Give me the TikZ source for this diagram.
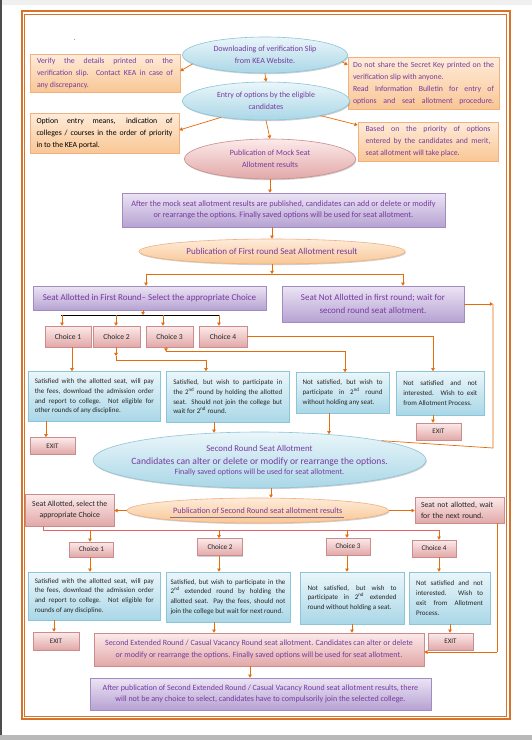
\documentclass[tikz,border=0pt]{standalone}
\usepackage{fontspec}
\setmainfont{Carlito}
\usetikzlibrary{shapes.geometric,arrows.meta,shadows}
\definecolor{purp}{RGB}{118,58,160}
\definecolor{orng}{RGB}{228,108,10}
\definecolor{framec}{RGB}{214,115,40}
\definecolor{blueT}{RGB}{234,246,250}
\definecolor{blueB}{RGB}{170,215,231}
\definecolor{blueD}{RGB}{140,196,216}
\definecolor{peachT}{RGB}{254,236,218}
\definecolor{peachB}{RGB}{249,198,148}
\definecolor{peachD}{RGB}{242,175,128}
\definecolor{pinkT}{RGB}{252,234,234}
\definecolor{pinkB}{RGB}{226,168,168}
\definecolor{pinkD}{RGB}{205,140,140}
\definecolor{lilT}{RGB}{236,228,245}
\definecolor{lilB}{RGB}{182,162,210}
\definecolor{lilD}{RGB}{160,140,190}
\definecolor{redl}{RGB}{232,96,100}
\begin{document}
\begin{tikzpicture}[x=1pt,y=-1pt,
 every node/.style={inner sep=0pt, line width=0.6pt},
 shd/.style={drop shadow={shadow xshift=0.8pt,shadow yshift=-1.2pt,opacity=0.3,fill=black!60}},
 arr/.style={draw=orng, line width=0.7pt, -{Triangle[length=3.2pt,width=3.6pt]}},
 ln/.style={draw=orng, line width=0.7pt},
 etext/.style={text=purp, align=center},
 bluell/.style={ellipse, draw=blueD, top color=blueT, bottom color=blueB, shd},
 oranell/.style={ellipse, draw=peachD, top color=peachT, bottom color=peachB, shd},
 pinkell/.style={ellipse, draw=pinkD, top color=pinkT, bottom color=pinkB, shd},
 peachbox/.style={rectangle, draw=peachD, top color=peachT, bottom color=peachB, text=purp, align=justify, font=\fontsize{7.8}{12}\selectfont, shd},
 lilbox/.style={rectangle, draw=lilD, top color=lilT, bottom color=lilB, text=purp, align=center, shd},
 pinkbox/.style={rectangle, draw=pinkD, top color=pinkT, bottom color=pinkB, text=black!85, align=center, shd},
 bluebox/.style={rectangle, draw=blueD, top color=blueT, bottom color=blueB, text=black!85, align=justify, font=\fontsize{7}{9.8}\selectfont, shd},
 choice/.style={pinkbox, font=\fontsize{7.6}{9}\selectfont},
 exitbox/.style={pinkbox, font=\fontsize{7}{8}\selectfont}
]
\useasboundingbox (0,0) rectangle (532,740);
\fill[white] (0,0) rectangle (532,740);
\fill[gray!12] (0,0) rectangle (532,5);
\fill[black!70] (0,0) rectangle (1.5,740);
\fill[gray!55] (0,735) rectangle (532,740);
\draw[framec, line width=2pt] (21.5,11) rectangle (509.5,719);
\draw[framec, line width=0.6pt] (24.5,14) rectangle (506.5,716);
\node[font=\fontsize{6}{6}\selectfont] (dot) at (75,40) {.};

% top part
\node[bluell, minimum width=165, minimum height=36] (E1) at (265,55) {};
\node[etext, font=\fontsize{8}{12}\selectfont] (E1t) at (E1.center) {Downloading of verification Slip\\from KEA Website.};
\node[peachbox, minimum width=150, minimum height=38, text width=136pt] (Vf) at (105,73) {Verify the details printed on the\linebreak verification slip. Contact KEA in case of\linebreak any discrepancy.};
\node[peachbox, minimum width=151, minimum height=52, text width=141pt] (Dn) at (423.5,83) {Do not share the Secret Key printed on the\linebreak verification slip with anyone.\\Read Information Bulletin for entry of\linebreak \makebox[\hsize][s]{options and seat allotment procedure.}};
\node[bluell, minimum width=167, minimum height=38] (E2) at (266,101) {};
\node[etext, font=\fontsize{7.9}{12}\selectfont] (E2t) at (E2.center) {Entry of options by the eligible\\candidates};
\node[peachbox, text=black, minimum width=149, minimum height=40, text width=136pt] (Op) at (104.5,133) {Option entry means, indication of\linebreak colleges / courses in the order of priority\linebreak in to the KEA portal.};
\node[peachbox, minimum width=140, minimum height=39, text width=125pt] (Bp) at (428,141.5) {Based on the priority of options\linebreak entered by the candidates and merit,\linebreak seat allotment will take place.};
\node[pinkell, minimum width=171, minimum height=40] (E3) at (270,159) {};
\node[etext, font=\fontsize{8}{12}\selectfont] (E3t) at (E3.center) {Publication of Mock Seat\\Allotment results};
\node[lilbox, minimum width=323, minimum height=34, font=\fontsize{8.2}{11.5}\selectfont] (Mk) at (283.5,210) {After the mock seat allotment results are published, candidates can add or delete or modify\\or rearrange the options. Finally saved options will be used for seat allotment.};
\node[oranell, minimum width=266, minimum height=25] (E9) at (272,251.5) {};
\node[etext, font=\fontsize{9}{10}\selectfont] (E9t) at (E9.center) {Publication of First round Seat Allotment result};
\node[lilbox, minimum width=233, minimum height=24, font=\fontsize{9}{10}\selectfont] (S1) at (149.5,298) {Seat Allotted in First Round– Select the appropriate Choice};
\node[lilbox, minimum width=182, minimum height=36, font=\fontsize{9}{12.5}\selectfont] (N1) at (373,304) {Seat Not Allotted in first round; wait for\\second round seat allotment.};

% first round choices
\node[choice, minimum width=46, minimum height=21] (Ca) at (68,336.5) {Choice 1};
\node[choice, minimum width=47, minimum height=21] (Cb) at (116.5,336.5) {Choice 2};
\node[choice, minimum width=47, minimum height=21] (Cc) at (169.5,336.5) {Choice 3};
\node[choice, minimum width=48, minimum height=21] (Cd) at (223,336.5) {Choice 4};

\node[bluebox, minimum width=132.5, minimum height=49.5, text width=119pt] (Ba) at (94.25,396.25) {Satisfied with the allotted seat, will pay\linebreak the fees, download the admission order\linebreak and report to college. Not eligible for\linebreak other rounds of any discipline.};
\node[bluebox, minimum width=123.5, minimum height=50.5, text width=109pt] (Bb) at (227.75,396.75) {Satisfied, but wish to participate in\linebreak the 2\textsuperscript{nd} round by holding the allotted\linebreak seat. Should not join the college but\linebreak wait for 2\textsuperscript{nd} round.};
\node[bluebox, minimum width=93, minimum height=40.5, text width=80pt] (Bc) at (342.5,392.75) {Not satisfied, but wish to\linebreak participate in 2\textsuperscript{nd} round\linebreak without holding any seat.};
\node[bluebox, minimum width=88.5, minimum height=43.5, text width=74pt] (Bd) at (440.25,393.25) {Not satisfied and not\linebreak interested. Wish to exit\linebreak from Allotment Process.};

\node[exitbox, minimum width=45, minimum height=16.5] (X1) at (52.5,445.75) {EXIT};
\node[exitbox, minimum width=45, minimum height=17] (X2) at (438.5,431.5) {EXIT};

\node[bluell, minimum width=333, minimum height=56] (E12) at (259.5,460) {};
\node[etext, font=\fontsize{9.6}{12}\selectfont] (E12t) at (259.5,461) {{\fontsize{8.8}{10}\selectfont Second Round Seat Allotment}\\[1pt]Candidates can alter or delete or modify or rearrange the options.\\[-2pt]{\fontsize{8}{10}\selectfont Finally saved options will be used for seat allotment.}};
\node[oranell, minimum width=261.5, minimum height=25] (E13) at (257.75,510.5) {};
\node[etext, font=\fontsize{8.2}{10}\selectfont] (E13t) at (E13.center) {Publication of Second Round seat allotment results};
\node[pinkbox, minimum width=88.5, minimum height=32, font=\fontsize{7.8}{11}\selectfont] (Sa) at (69.75,510) {Seat Allotted, select the\\appropriate Choice};
\node[pinkbox, align=left, text width=77pt, minimum width=89, minimum height=26, font=\fontsize{7.8}{11}\selectfont] (Sn) at (459.5,510) {Seat not allotted, wait\\for the next round.};

% second round choices
\node[choice, font=\fontsize{7.2}{8}\selectfont, minimum width=44, minimum height=15] (Da) at (91.5,549.5) {Choice 1};
\node[choice, font=\fontsize{7.2}{8}\selectfont, minimum width=45, minimum height=17] (Db) at (220,547) {Choice 2};
\node[choice, font=\fontsize{7.2}{8}\selectfont, minimum width=44, minimum height=17] (Dc) at (348,546.5) {Choice 3};
\node[choice, font=\fontsize{7.2}{8}\selectfont, minimum width=44, minimum height=17] (Dd) at (434,548.5) {Choice 4};

\node[bluebox, minimum width=132.5, minimum height=48, text width=119pt] (Fa) at (94.25,596) {Satisfied with the allotted seat, will pay\linebreak the fees, download the admission order\linebreak and report to college. Not eligible for\linebreak rounds of any discipline.};
\node[bluebox, minimum width=124, minimum height=50, text width=115pt] (Fb) at (228,597) {Satisfied, but wish to participate in the\linebreak 2\textsuperscript{nd} extended round by holding the\linebreak allotted seat. Pay the fees, should not\linebreak join the college but wait for next round.};
\node[bluebox, minimum width=104, minimum height=52, text width=89pt] (Fc) at (352,598) {Not satisfied, but wish to\linebreak participate in 2\textsuperscript{nd} extended\linebreak round without holding a seat.};
\node[bluebox, minimum width=81, minimum height=52, text width=67pt] (Fd) at (449.5,598) {Not satisfied and not\linebreak interested. Wish to\linebreak exit from Allotment\linebreak Process.};

\node[exitbox, minimum width=46, minimum height=18] (X3) at (56,641) {EXIT};
\node[exitbox, minimum width=45, minimum height=17] (X4) at (450.5,641.5) {EXIT};
\node[pinkbox, text=purp, minimum width=330, minimum height=33, font=\fontsize{8}{11.5}\selectfont] (Sx) at (259,649.5) {Second Extended Round / Casual Vacancy Round seat allotment. Candidates can alter or delete\\or modify or rearrange the options. Finally saved options will be used for seat allotment.};
\node[lilbox, minimum width=341, minimum height=32, font=\fontsize{8}{11.5}\selectfont] (Af) at (260.5,694) {After publication of Second Extended Round / Casual Vacancy Round seat allotment results, there\\will not be any choice to select, candidates have to compulsorily join the selected college.};

\draw[lilD!80!black, line width=0.7pt] (170,517.5) -- (344,517.5);

% connectors top
\draw[arr] (E1.187) -- ([yshift=2pt]Vf.east);
\draw[arr] (E1.355) -- (Dn.west |- 0,65);
\draw[arr] (E1.south) -- (E2.north);
\draw[arr] (E2.200) -- (Op.east |- 0,130);
\draw[arr] (E2.345) -- (Bp.west |- 0,125);
\draw[arr] (E2.south) -- (E3.north);
\draw[arr] (E3.south) -- (Mk.north -| E3.south);
\draw[arr] (Mk.south -| E9.north) -- (E9.north);
\coordinate (sp1) at (E9.south |- 0,274);
\draw[arr] (E9.south) -- (sp1);
\draw[arr] (sp1) -| (S1.north -| 146,0);
\draw[arr] (sp1) -| (N1.north -| 403,0);
\coordinate (sp2) at (143,315);
\draw[arr] (S1.south -| sp2) -- (sp2);
\draw[black, line width=0.8pt] (61,315) -- (220,315);
\draw[arr] (62,315) -- (Ca.north -| 62,0);
\draw[arr] (116,315) -- (Cb.north -| 116,0);
\draw[arr] (163,315) -- (Cc.north -| 163,0);
\draw[arr] (219,315) -- (Cd.north -| 219,0);
\draw[arr] (Ca.south -| 72,0) -- (Ba.north -| 72,0);
\coordinate (cb1) at (116,356);
\draw[arr] (Cb.south -| cb1) -- (cb1);
\draw[arr] (cb1) -- (116,360) -| (Bb.north -| 206,0);
\coordinate (cc1) at (166,351.5);
\draw[arr] (Cc.south -| cc1) -- (cc1);
\draw[arr] (cc1) -| (Bc.north -| 345,0);
\draw[arr] (Cd.east) -| (Bd.north -| 433,0);
\draw[arr] (Ba.south -| 46,0) -- (X1.north -| 46,0);
\draw[arr] (Bd.south -| 433,0) -- (X2.north -| 433,0);
\draw[arr] (Bb.south -| 214,0) -- ([yshift=-1pt]E12.north -| 214,0);
\draw[arr] (Bc.south -| 329,0) -- ([yshift=-2.5pt]E12.north -| 329,0);
\coordinate (nr) at (493,304);
\draw[arr] (N1.east) -- (N1.east -| nr);
\draw[ln] (N1.east -| nr) -- (493,448) -- (E12.9);
% second round
\draw[arr] (E12.south -| 271,0) -- (E13.north -| 271,0);
\draw[arr] (E13.west) -- (Sa.east |- E13.west);
\draw[arr] (E13.east) -- (Sn.west |- E13.east);
\draw[redl, line width=1pt] (Sa.south -| 43,0) -- (43,530) -- (440,530);
\draw[arr] (90,530) -- (Da.north -| 90,0);
\draw[arr] (219,530) -- (Db.north -| 219,0);
\draw[arr] (347,530) -- (Dc.north -| 347,0);
\draw[arr] (439,530) -- (Dd.north -| 439,0);
\draw[arr] (Da.south -| 90,0) -- (Fa.north -| 90,0);
\draw[arr] (Db.south -| 219,0) -- (Fb.north -| 219,0);
\draw[arr] (Dc.south -| 347,0) -- (Fc.north -| 347,0);
\draw[arr] (Dd.south -| 439,0) -- (Fd.north -| 439,0);
\draw[arr] (Fa.south -| 54,0) -- (X3.north -| 54,0);
\draw[arr] (Fb.south -| 214,0) -- (Sx.north -| 214,0);
\draw[arr] (Fc.south -| 352,0) -- (Sx.north -| 352,0);
\draw[arr] (Fd.south -| 450,0) -- (X4.north -| 450,0);
\coordinate (sr) at (497,652);
\draw[ln] (Sn.south -| sr) -- (sr);
\draw[arr] (sr) -- (Sx.east |- sr);
\draw[arr] (Sx.south -| 250,0) -- (Af.north -| 250,0);
\end{tikzpicture}
\end{document}
